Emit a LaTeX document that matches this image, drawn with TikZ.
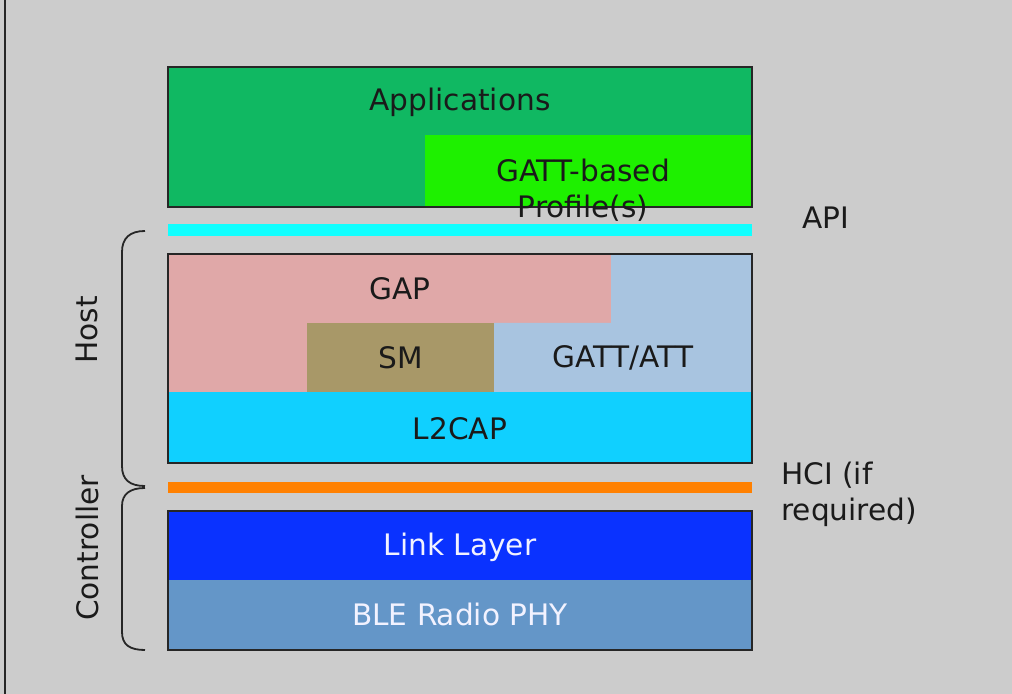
\documentclass[tikz,border=0pt]{standalone}
\usepackage{fontspec}
\setmainfont{DejaVu Sans}
\definecolor{bg}{HTML}{CCCCCC}
\definecolor{txt}{HTML}{1A1A1A}
\definecolor{appgreen}{HTML}{10B862}
\definecolor{gattgreen}{HTML}{1EF000}
\definecolor{apicyan}{HTML}{10FFFF}
\definecolor{gappink}{HTML}{E0A8A8}
\definecolor{gattblue}{HTML}{A8C4E0}
\definecolor{smolive}{HTML}{A89868}
\definecolor{l2cap}{HTML}{10D0FF}
\definecolor{hciorange}{HTML}{FF8000}
\definecolor{llblue}{HTML}{0A32FF}
\definecolor{phyblue}{HTML}{6496C8}
\begin{document}
\begin{tikzpicture}[x=0.5pt,y=-0.5pt,
  lbl/.style={font=\fontsize{14.8}{18}\selectfont, text=txt, inner sep=0pt},
  wlbl/.style={lbl, text=white!95!blue},
  frame/.style={draw=black!85, line width=0.9pt},
  brace/.style={draw=black!85, line width=0.9pt}]
\fill[bg] (0,0) rectangle (1012,694);
\useasboundingbox (0,0) rectangle (1012,694);
\draw[line width=1pt, black!85] (5,0) -- (5,694);
% application block
\fill[appgreen] (168,67) rectangle (752,207);
\fill[gattgreen] (425,135) rectangle (752,207);
\draw[frame] (168,67) rectangle (752,207);
\node[lbl] (apps) at (460,102) {Applications};
\node[lbl, align=center] (prof) at (583,190) {GATT-based\\Profile(s)};
% API bar
\fill[apicyan] (168,224) rectangle (752,236);
\node[lbl] (api) at (826,218) {API};
% host block
\fill[gappink] (168,254) rectangle (752,392);
\fill[gattblue] (611,254) -- (752,254) -- (752,392) -- (494,392) -- (494,323) -- (611,323) -- cycle;
\fill[smolive] (307,323) rectangle (494,392);
\fill[l2cap] (168,392) rectangle (752,463);
\draw[frame] (168,254) rectangle (752,463);
\node[lbl] (gap) at (400,289) {GAP};
\node[lbl] (sm) at (401,358) {SM};
\node[lbl] (gatt) at (623,358) {GATT/ATT};
\node[lbl] (l2) at (460,429) {L2CAP};
% HCI bar
\fill[hciorange] (168,482) rectangle (752,493);
\node[lbl, align=left, anchor=west] (hci) at (781,494) {HCI (if\\required)};
% controller block
\fill[llblue] (168,511) rectangle (752,580);
\fill[phyblue] (168,580) rectangle (752,650);
\draw[frame] (168,511) rectangle (752,650);
\node[wlbl] (ll) at (460,547) {Link Layer};
\node[wlbl] (phy) at (460,614) {BLE Radio PHY};
% braces
\draw[brace] (145,231) .. controls (130,231) and (122,238) .. (122,252) -- (122,466) .. controls (122,480) and (130,486) .. (145,486);
\draw[brace] (145,488) .. controls (130,488) and (122,494) .. (122,506) -- (122,632) .. controls (122,645) and (130,650) .. (145,650);
\node[lbl, rotate=90] (host) at (87,330) {Host};
\node[lbl, rotate=90] (ctrl) at (87,548) {Controller};
\end{tikzpicture}
\end{document}
